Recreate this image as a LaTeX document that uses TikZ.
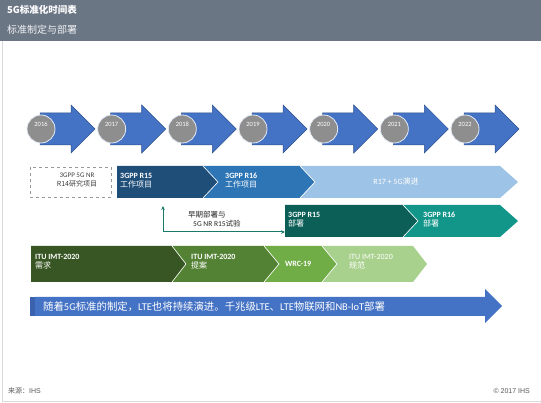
\documentclass[tikz,border=0pt]{standalone}
\usepackage{fontspec}
\setmainfont{Noto Sans CJK SC}
\newfontfamily\calf{Carlito}
\newfontfamily\arsf{Liberation Sans}
\usetikzlibrary{arrows.meta}
\definecolor{hdr}{HTML}{6B7685}
\definecolor{yarrow}{HTML}{4472C4}
\definecolor{yedge}{HTML}{2F528F}
\definecolor{ycirc}{HTML}{8E8E8E}
\definecolor{rA}{HTML}{1F4E79}
\definecolor{rB}{HTML}{2E75B6}
\definecolor{rC}{HTML}{9DC3E6}
\definecolor{dA}{HTML}{0B5F57}
\definecolor{dB}{HTML}{13968A}
\definecolor{gA}{HTML}{375623}
\definecolor{gB}{HTML}{548235}
\definecolor{gC}{HTML}{70AD47}
\definecolor{gD}{HTML}{A9D18E}
\definecolor{edc}{HTML}{1A7A6A}
\definecolor{strip}{HTML}{3A62AE}
\tikzset{
  chev/.style={draw=white, line width=0.6pt},
  lbl/.style={text=white, align=left, inner sep=0pt, anchor=west, font=\fontsize{8}{8.8}\selectfont},
  yr/.style={text=white, inner sep=0pt, font=\calf\fontsize{6.5}{7}\selectfont},
  foot/.style={text=black!65, inner sep=0pt, font=\fontsize{7}{8}\selectfont}
}
\begin{document}
\begin{tikzpicture}[x=1pt,y=-1pt]
\useasboundingbox (0,0) rectangle (541,403);
\fill[white] (0,0) rectangle (541,403);
% header
\fill[hdr] (0,0) rectangle (541,41);
\node[anchor=west, inner sep=0pt, text=white, font=\bfseries\fontsize{9.5}{10}\selectfont] (title) at (7,10) {5G标准化时间表};
\node[anchor=west, inner sep=0pt, text=white!90!hdr, font=\fontsize{10}{11}\selectfont] (subtitle) at (7,30) {标准制定与部署};
% frame lines
\draw[black!15, line width=0.8pt] (2,41) -- (2,401) -- (541,401);
% year arrows
\foreach \yy [count=\i from 0] in {2016,2017,2018,2019,2020,2021,2022}{
  \pgfmathsetmacro\cx{41+70.67*\i}
  \filldraw[fill=yarrow, draw=yedge, line width=0.5pt]
    ({\cx-1},113) -- ({\cx+30},113) -- ({\cx+30},105) -- ({\cx+54},129)
    -- ({\cx+30},153) -- ({\cx+30},145) -- ({\cx-1},145) -- cycle;
  \node[circle, fill=ycirc, draw=white!85!yarrow, line width=0.8pt, minimum size=28pt, inner sep=0pt] (c\yy) at (\cx,129) {};
  \node[yr] (t\yy) at (\cx,124) {\yy};
}
% row 2 : 3GPP
\draw[black!40, dashed, line width=0.6pt] (30,167) rectangle (111,197);
\node[align=center, inner sep=0pt, text=black!75, font=\fontsize{7}{9}\selectfont] (r14) at (77,180.5) {{\calf 3GPP 5G NR}\\R14研究项目};
\fill[rA] (117,166) -- (203,166) -- (218,182) -- (203,198) -- (117,198) -- cycle;
\fill[rB] (203,166) -- (300,166) -- (315,182) -- (300,198) -- (203,198) -- (218,182) -- cycle;
\fill[rC] (300,166) -- (500,166) -- (518,182) -- (500,198) -- (300,198) -- (315,182) -- cycle;
\draw[chev] (203,166) -- (218,182) -- (203,198);
\draw[chev] (300,166) -- (315,182) -- (300,198);
\node[lbl] (r15) at (120,180.5) {{\calf\bfseries 3GPP R15}\\工作项目};
\node[lbl] (r16) at (225,180.5) {{\calf\bfseries 3GPP R16}\\工作项目};
\node[text=white, inner sep=0pt, font=\fontsize{8}{9}\selectfont] (r17) at (396,181) {{\calf R17 + 5G}演进};
% row 3 : deployment
\fill[dA] (285,205) -- (403,205) -- (418,221) -- (403,237) -- (285,237) -- cycle;
\fill[dB] (403,205) -- (500,205) -- (518,221) -- (500,237) -- (403,237) -- (418,221) -- cycle;
\draw[chev] (403,205) -- (418,221) -- (403,237);
\node[lbl] (d15) at (288,219.5) {{\calf\bfseries 3GPP R15}\\部署};
\node[lbl] (d16) at (423,219.5) {{\calf\bfseries 3GPP R16}\\部署};
\coordinate (edtop) at (163,206);
\coordinate (edend) at (285,232);
\draw[edc, line width=1pt, {Stealth[length=4pt,width=3.5pt]}-{Stealth[length=4pt,width=3.5pt]}] (edtop) |- (edend);
\node[align=left, anchor=west, inner sep=0pt, text=black!85, font=\fontsize{7.5}{8.5}\selectfont] (early) at (188,219) {早期部署与\\\hspace*{5pt}{\calf 5G NR R15}试验};
% row 4 : ITU
\fill[gA] (31,246) -- (172,246) -- (186,264) -- (172,282) -- (31,282) -- cycle;
\fill[gB] (172,246) -- (264,246) -- (279,264) -- (264,282) -- (172,282) -- (186,264) -- cycle;
\fill[gC] (264,246) -- (322,246) -- (337,264) -- (322,282) -- (264,282) -- (279,264) -- cycle;
\fill[gD] (322,246) -- (413,246) -- (427,264) -- (413,282) -- (322,282) -- (337,264) -- cycle;
\draw[chev] (172,246) -- (186,264) -- (172,282);
\draw[chev] (264,246) -- (279,264) -- (264,282);
\draw[chev] (322,246) -- (337,264) -- (322,282);
\node[lbl] (i1) at (35,262) {{\calf\bfseries ITU IMT-2020}\\需求};
\node[lbl] (i2) at (191,262) {{\calf\bfseries ITU IMT-2020}\\提案};
\node[lbl] (i3) at (285,264) {{\calf\bfseries WRC-19}};
\node[lbl] (i4) at (349,262) {{\calf ITU IMT-2020}\\规范};
% row 5 : LTE arrow
\fill[yarrow] (35,297) -- (485,297) -- (485,289) -- (502,306) -- (485,323) -- (485,316) -- (35,316) -- cycle;
\fill[strip] (30,297) rectangle (35,316);
\node[anchor=west, inner sep=0pt, text=white, font=\fontsize{10.4}{11}\selectfont] (lte) at (43,306.5) {随着{\calf 5G}标准的制定，{\calf LTE}也将持续演进。千兆级{\calf LTE}、{\calf LTE}物联网和{\calf NB-IoT}部署};
% footer
\node[foot, anchor=west] (src) at (8,391) {来源：{\arsf IHS}};
\node[foot, anchor=east, font=\arsf\fontsize{7}{8}\selectfont] (copy) at (530,391) {© 2017 IHS};
\end{tikzpicture}
\end{document}
